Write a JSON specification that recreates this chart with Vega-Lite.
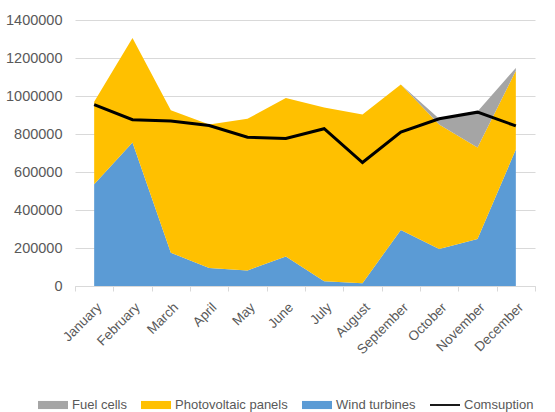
{
  "$schema": "https://vega.github.io/schema/vega-lite/v6.json",
  "autosize": {"type": "none"},
  "width": 460,
  "height": 266,
  "padding": {"left": 75, "top": 20, "right": 20, "bottom": 126},
  "background": "white",
  "config": {
    "view": {"stroke": null},
    "font": "Liberation Sans",
    "axis": {"labelColor": "#595959", "labelFont": "Liberation Sans", "titleColor": "#595959"}
  },
  "data": {
    "values": [
      {"month": "January", "Wind turbines": 535000, "Photovoltaic panels": 435000, "Fuel cells": 0, "Comsuption": 955000},
      {"month": "February", "Wind turbines": 755000, "Photovoltaic panels": 550000, "Fuel cells": 0, "Comsuption": 875000},
      {"month": "March", "Wind turbines": 175000, "Photovoltaic panels": 750000, "Fuel cells": 0, "Comsuption": 868000},
      {"month": "April", "Wind turbines": 95000, "Photovoltaic panels": 755000, "Fuel cells": 0, "Comsuption": 845000},
      {"month": "May", "Wind turbines": 82000, "Photovoltaic panels": 798000, "Fuel cells": 0, "Comsuption": 783000},
      {"month": "June", "Wind turbines": 155000, "Photovoltaic panels": 835000, "Fuel cells": 0, "Comsuption": 776000},
      {"month": "July", "Wind turbines": 25000, "Photovoltaic panels": 915000, "Fuel cells": 0, "Comsuption": 828000},
      {"month": "August", "Wind turbines": 15000, "Photovoltaic panels": 887000, "Fuel cells": 0, "Comsuption": 650000},
      {"month": "September", "Wind turbines": 295000, "Photovoltaic panels": 765000, "Fuel cells": 0, "Comsuption": 810000},
      {"month": "October", "Wind turbines": 195000, "Photovoltaic panels": 655000, "Fuel cells": 30000, "Comsuption": 880000},
      {"month": "November", "Wind turbines": 248000, "Photovoltaic panels": 481000, "Fuel cells": 190000, "Comsuption": 915000},
      {"month": "December", "Wind turbines": 718000, "Photovoltaic panels": 415000, "Fuel cells": 15000, "Comsuption": 843000}
    ]
  },
  "encoding": {
    "x": {
      "field": "month",
      "type": "ordinal",
      "bandPosition": 0.5,
      "sort": ["January", "February", "March", "April", "May", "June", "July", "August", "September", "October", "November", "December"],
      "scale": {"type": "band", "paddingInner": 0, "paddingOuter": 0},
      "axis": {
        "title": null,
        "labelAngle": -45,
        "labelFontSize": 13.5,
        "labelPadding": 9,
        "ticks": true,
        "tickBand": "extent",
        "tickColor": "#d9d9d9",
        "tickSize": 5,
        "domainColor": "#d9d9d9",
        "domainWidth": 1,
        "grid": false
      }
    }
  },
  "layer": [
    {
      "transform": [
        {"fold": ["Wind turbines", "Photovoltaic panels", "Fuel cells"], "as": ["source", "energy"]}
      ],
      "mark": {"type": "area", "interpolate": "linear", "opacity": 1},
      "encoding": {
        "y": {
          "field": "energy",
          "type": "quantitative",
          "stack": "zero",
          "scale": {"domain": [0, 1400000], "nice": false},
          "axis": {
            "title": null,
            "values": [0, 200000, 400000, 600000, 800000, 1000000, 1200000, 1400000],
            "tickCount": 8,
            "format": "d",
            "labelOverlap": false,
            "labelFontSize": 14.5,
            "labelPadding": 13,
            "ticks": false,
            "domain": false,
            "grid": true,
            "gridColor": "#d9d9d9",
            "gridWidth": 1
          }
        },
        "color": {
          "field": "source",
          "type": "nominal",
          "scale": {
            "domain": ["Fuel cells", "Photovoltaic panels", "Wind turbines", "Comsuption"],
            "range": ["#a5a5a5", "#ffc000", "#5b9bd5", "#000000"]
          },
          "legend": {
            "title": null,
            "orient": "none",
            "direction": "horizontal",
            "legendX": -37,
            "legendY": 370,
            "symbolType": "M-1,-0.27H1V0.27H-1Z",
            "symbolSize": 900,
            "symbolStrokeWidth": 0,
            "symbolOpacity": 1,
            "labelFontSize": 13,
            "labelColor": "#595959",
            "labelOffset": 4,
            "columnPadding": 14,
            "encode": {
              "symbols": {
                "update": {
                  "shape": {"signal": "datum.value === 'Comsuption' ? 'M-1,-0.06H1V0.06H-1Z' : 'M-1,-0.27H1V0.27H-1Z'"},
                  "fill": {"signal": "scale('color', datum.value)"},
                  "strokeWidth": {"value": 0}
                }
              }
            }
          }
        },
        "order": {"field": "source", "sort": "descending"}
      }
    },
    {
      "mark": {"type": "line", "strokeWidth": 3, "interpolate": "linear"},
      "encoding": {
        "y": {
          "field": "Comsuption",
          "type": "quantitative",
          "axis": {
            "title": null,
            "values": [0, 200000, 400000, 600000, 800000, 1000000, 1200000, 1400000],
            "tickCount": 8,
            "format": "d",
            "labelOverlap": false,
            "labelFontSize": 14.5,
            "labelPadding": 13,
            "ticks": false,
            "domain": false,
            "grid": true,
            "gridColor": "#d9d9d9",
            "gridWidth": 1
          }
        },
        "color": {"datum": "Comsuption"}
      }
    }
  ]
}
